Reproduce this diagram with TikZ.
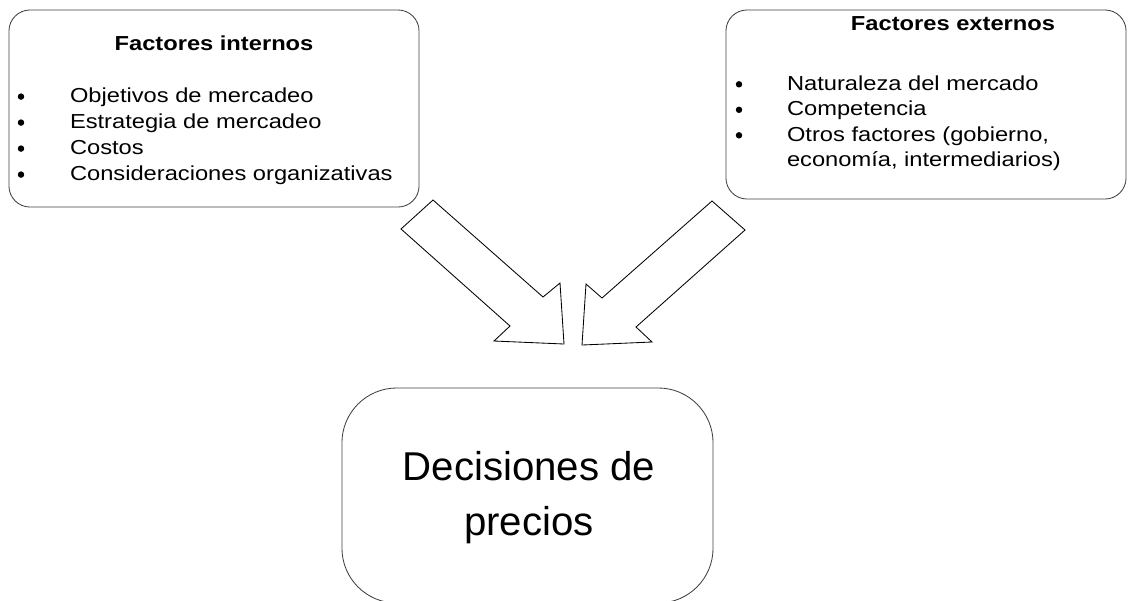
\documentclass[tikz,border=0pt]{standalone}
\usepackage{fontspec}
\setmainfont{Liberation Sans}[FakeStretch=1.17]
\newfontfamily\anchoNormal{Liberation Sans}
\usepackage{tikz}
\newcommand{\chico}{\fontsize{14.4pt}{18.5pt}\selectfont}
\newcommand{\grande}{\anchoNormal\fontsize{28.6pt}{39pt}\selectfont}

\begin{document}
\begin{tikzpicture}[x=0.025cm,y=-0.025cm]
      \tikzstyle{every node}=[inner sep=0pt,outer sep=0pt]
      \tikzstyle{caja}=[draw=black!75,line width=0.6pt,rectangle,
                        rounded corners=15pt]
      \tikzstyle{titulo}=[anchor=base,font=\chico\bfseries]
      \tikzstyle{item}=[anchor=base west,font=\chico]
      \tikzstyle{punto}=[circle,fill=black,minimum size=4.6pt]
      \tikzstyle{flecha}=[draw=black,line width=0.6pt,fill=white]
      \useasboundingbox (0,0) rectangle (1128,600);

      \node (internos) [caja,minimum width=10.25cm,minimum height=4.925cm]
            at (214,108.5) {};
      \node (externos) [caja,minimum width=10cm,minimum height=4.725cm]
            at (926,104.5) {};
      \node (decision) [caja,rounded corners=39pt,minimum width=9.275cm,
            minimum height=5.375cm] at (527.5,495.5) {};

      \node (tinternos) [titulo] at (214,50) {Factores internos};
      \foreach \t [count=\i] in {Objetivos de mercadeo,Estrategia de mercadeo,
                                 Costos,Consideraciones organizativas} {
        \node (pint\i) [punto] at (21,70.6+26*\i) {};
        \node (int\i) [item] at (70,76.3+26*\i) {\t};
      }

      \node (texternos) [titulo] at (953,30) {Factores externos};
      \foreach \t [count=\i] in {Naturaleza del mercado,Competencia,
                                 {Otros factores (gobierno,}} {
        \node (pext\i) [punto] at (739,58.8+25.5*\i) {};
        \node (ext\i) [item] at (787,64.5+25.5*\i) {\t};
      }
      \node (ext4) [item] at (787,166.5) {economía, intermediarios)};

      \draw[flecha] (433,200) -- (401,229) -- (510,326) -- (494,341)
            -- (564,344) -- (560,283) -- (543,297) -- cycle;
      \draw[flecha] (712,201) -- (745,230) -- (636,327) -- (652,342)
            -- (582,345) -- (586,284) -- (602,298) -- cycle;

      \node (dec1) [anchor=base,font=\grande] at (529,480) {Decisiones de};
      \node (dec2) [anchor=base,font=\grande] at (529,535) {precios};
\end{tikzpicture}
\end{document}
